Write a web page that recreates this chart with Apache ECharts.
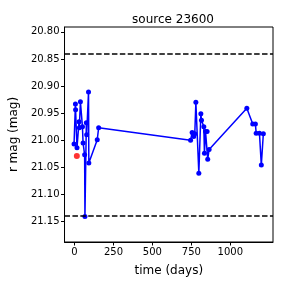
<!DOCTYPE html>
<html>
<head>
<meta charset="utf-8">
<script src="https://cdn.jsdelivr.net/npm/echarts@6/dist/echarts.min.js"></script>
<style>html,body{margin:0;padding:0;background:#fff;}#c{width:288px;height:288px;}</style>
</head>
<body>
<div id="c"></div>
<script>
// Light-curve data (time in days, r magnitude)
var times = [-3, 6, 7, 16, 29, 31, 38, 51, 55, 65, 67, 76, 78, 90, 92, 146, 155,
             745, 755, 765, 772, 779, 798, 811, 815, 830, 834, 841, 851, 855, 864,
             1106, 1144, 1161, 1166, 1187, 1199, 1212];
var mags = [21.007, 20.933, 20.944, 21.014, 20.966, 20.977, 20.929, 20.975, 21.005, 21.027, 21.141, 20.968, 20.990, 20.911, 21.042, 20.999, 20.977,
            21.000, 20.986, 20.993, 20.988, 20.930, 21.061, 20.951, 20.963, 20.975, 21.024, 20.984, 20.984, 21.035, 21.017,
            20.941, 20.970, 20.970, 20.987, 20.987, 21.046, 20.988];
var flaggedTimes = [15];
var flaggedMags = [21.029];
var upperLimit = 20.841;
var lowerLimit = 21.137;
var xTicks = [0, 250, 500, 750, 1000];
var yTicks = [20.80, 20.85, 20.90, 20.95, 21.00, 21.05, 21.10, 21.15];

var lineData = times.map(function (t, i) { return [t, mags[i]]; });
var redData = flaggedTimes.map(function (t, i) { return [t, flaggedMags[i]]; });

var chart = echarts.init(document.getElementById('c'), null, {renderer: 'canvas'});
var font = 'DejaVu Sans';
chart.setOption({
  animation: false,
  backgroundColor: '#ffffff',
  title: {
    text: 'source 23600',
    left: 168, top: 9, textAlign: 'center',
    textStyle: {fontFamily: font, fontSize: 12, fontWeight: 'normal', color: '#000'}
  },
  grid: {left: 63, top: 27, width: 210, height: 215, show: true, borderColor: '#000', borderWidth: 1, containLabel: false},
  xAxis: {
    type: 'value', min: -64, max: 1274,
    name: 'time (days)', nameLocation: 'middle', nameGap: 23,
    nameTextStyle: {fontFamily: font, fontSize: 12, color: '#000'},
    axisLine: {show: true, onZero: false, lineStyle: {color: '#000', width: 1}},
    axisTick: {show: true, length: 3.5, lineStyle: {color: '#000'}, customValues: xTicks},
    axisLabel: {fontFamily: font, fontSize: 10, color: '#000', margin: 5, customValues: xTicks,
      formatter: function (v) { return String(Math.round(v)); }},
    splitLine: {show: false}
  },
  yAxis: {
    type: 'value', inverse: true, min: 20.791, max: 21.188,
    name: 'r mag (mag)', nameLocation: 'middle', nameGap: 38,
    nameTextStyle: {fontFamily: font, fontSize: 12, color: '#000'},
    axisLine: {show: true, onZero: false, lineStyle: {color: '#000', width: 1}},
    axisTick: {show: true, length: 3.5, lineStyle: {color: '#000'}, customValues: yTicks},
    axisLabel: {fontFamily: font, fontSize: 10, color: '#000', margin: 5, customValues: yTicks,
      formatter: function (v) { return Number(v).toFixed(2); }},
    splitLine: {show: false}
  },
  series: [
    {
      type: 'line', data: lineData, symbol: 'circle', symbolSize: 5,
      lineStyle: {color: '#0000ff', width: 1.5},
      itemStyle: {color: '#0000ff'},
      z: 3,
      markLine: {
        silent: true, symbol: 'none', label: {show: false},
        lineStyle: {color: '#000', width: 1.5, type: [5.5, 2.4]},
        data: [{yAxis: upperLimit}, {yAxis: lowerLimit}]
      }
    },
    {
      type: 'scatter', data: redData, symbol: 'circle', symbolSize: 6,
      itemStyle: {color: '#ff0000'}, z: 4
    }
  ]
});
</script>
</body>
</html>
